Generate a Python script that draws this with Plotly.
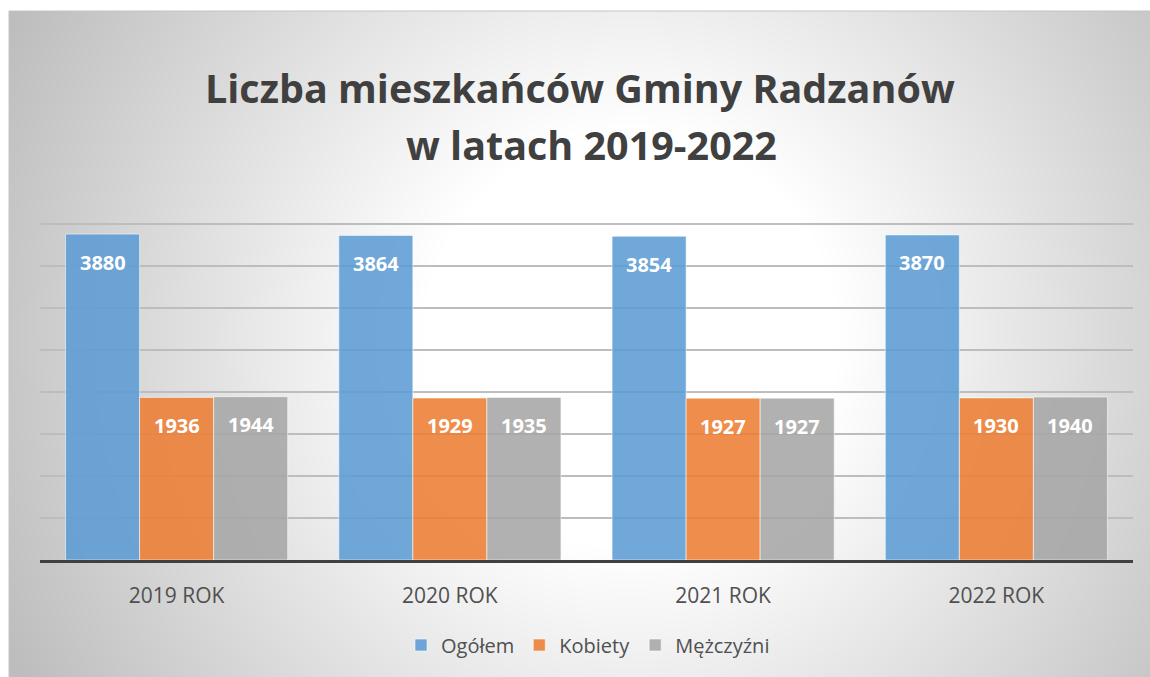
import base64, struct, zlib
import numpy as np
import plotly.graph_objects as go

# ---------------- data ----------------
categories = ["2019 ROK", "2020 ROK", "2021 ROK", "2022 ROK"]
series_names = ["Ogółem", "Kobiety", "Mężczyźni"]
ogolem = [3880, 3864, 3854, 3870]
kobiety = [1936, 1929, 1927, 1930]
mezczyzni = [1944, 1935, 1927, 1940]
title_line1 = "Liczba mieszkańców Gminy Radzanów"
title_line2 = "w latach 2019-2022"

# ---------------- layout geometry (pixels) ----------------
W, H = 1150, 677
L, R, T, B = 40, 1133, 182, 560
BARGAP = 0.187
FONT = "Open Sans"


def px_x(x):
    return (x - L) / (R - L)


def px_y(y):
    return (B - y) / (B - T)


# ---------------- background radial gradient as PNG ----------------
def make_png(arr):
    h, w = arr.shape
    raw = b"".join(b"\x00" + arr[i].tobytes() for i in range(h))

    def chunk(tag, data):
        c = struct.pack(">I", len(data)) + tag + data
        return c + struct.pack(">I", zlib.crc32(tag + data) & 0xFFFFFFFF)

    return (b"\x89PNG\r\n\x1a\n" + chunk(b"IHDR", struct.pack(">IIBBBBB", w, h, 8, 0, 0, 0, 0))
            + chunk(b"IDAT", zlib.compress(raw, 9)) + chunk(b"IEND", b""))


bx0, by0, bx1, by1 = 9, 11, 1156, 680
scale = 2
gw, gh = (bx1 - bx0) // scale, (by1 - by0) // scale
xs = bx0 + (np.arange(gw) + 0.5) * scale
ys = by0 + (np.arange(gh) + 0.5) * scale
XX, YY = np.meshgrid(xs, ys)
cx, cy = 630, 340
r = np.sqrt((XX - cx) ** 2 + (YY - cy) ** 2) / 700.0
t = np.clip((r - 0.3) / 0.7, 0, 1)
val = (255 - 66 * t).astype(np.uint8)
img_uri = "data:image/png;base64," + base64.b64encode(make_png(val)).decode()

# ---------------- figure ----------------
colors = ["rgba(91,155,213,0.87)", "rgba(237,125,49,0.87)", "rgba(165,165,165,0.87)"]
values = [ogolem, kobiety, mezczyzni]

fig = go.Figure()
for name, vals, col in zip(series_names, values, colors):
    fig.add_trace(go.Bar(
        x=categories, y=vals, name=name,
        marker=dict(color=col, line=dict(color="rgba(255,255,255,0.55)", width=1)),
        hoverinfo="skip",
    ))

bar_px = (R - L) / len(categories) * (1 - BARGAP) / len(series_names)
annotations = []
for i, vals in enumerate(values):
    for cat, v in zip(categories, vals):
        annotations.append(dict(
            x=cat, y=v, xref="x", yref="y", text=f"<b>{v}</b>", showarrow=False,
            xshift=(i - (len(series_names) - 1) / 2) * bar_px, yshift=-28,
            yanchor="middle", font=dict(family=FONT, size=20, color="white"),
        ))

annotations.append(dict(x=px_x(580), y=px_y(88), xref="paper", yref="paper", text=f"<b>{title_line1}</b>",
                        showarrow=False, xanchor="center", yanchor="middle",
                        font=dict(family=FONT, size=39.5, color="#404040")))
annotations.append(dict(x=px_x(591), y=px_y(145), xref="paper", yref="paper", text=f"<b>{title_line2}</b>",
                        showarrow=False, xanchor="center", yanchor="middle",
                        font=dict(family=FONT, size=39.5, color="#404040")))

fig.update_layout(
    width=W, height=H,
    margin=dict(l=L, r=W - R, t=T, b=H - B, pad=0),
    paper_bgcolor="white", plot_bgcolor="rgba(0,0,0,0)",
    barmode="group", bargap=BARGAP, bargroupgap=0,
    showlegend=True,
    legend=dict(orientation="h", x=px_x(588), y=px_y(645), xanchor="center", yanchor="middle",
                font=dict(family=FONT, size=20, color="#505050"), itemwidth=30,
                bgcolor="rgba(0,0,0,0)", traceorder="normal"),
    annotations=annotations,
    images=[dict(source=img_uri, xref="paper", yref="paper", x=px_x(bx0), y=px_y(by0),
                 sizex=(bx1 - bx0) / (R - L), sizey=(by1 - by0) / (B - T),
                 xanchor="left", yanchor="top", sizing="stretch", layer="below")],
    shapes=[dict(type="rect", xref="paper", yref="paper", x0=px_x(bx0), y0=px_y(by0),
                 x1=px_x(bx1), y1=px_y(by1), line=dict(color="#C4C4C4", width=1), layer="above")],
    font=dict(family=FONT),
)
fig.update_xaxes(showline=True, linecolor="#404040", linewidth=3, showgrid=False,
                 ticks="", ticklabelstandoff=15,
                 tickfont=dict(family=FONT, size=21, color="#505050"), fixedrange=True)
fig.update_yaxes(range=[0, 4500], dtick=500, showgrid=True, gridcolor="#BDBDBD", gridwidth=1.5,
                 showticklabels=False, zeroline=False, showline=False, fixedrange=True)

fig.write_html("out.html", config={"displayModeBar": False},
               post_script="document.body.style.margin='0';document.body.style.overflow='hidden';")
